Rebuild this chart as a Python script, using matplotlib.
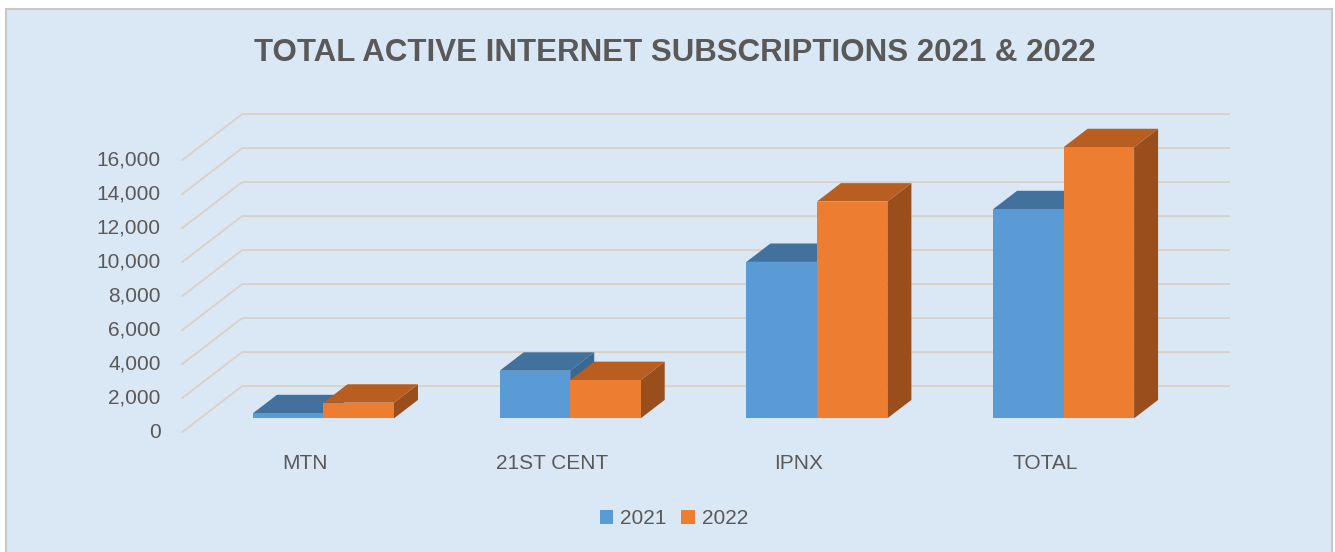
import matplotlib
matplotlib.use("Agg")
import matplotlib.pyplot as plt
from matplotlib.patches import Polygon, Rectangle

# datos
categories = ["MTN", "21ST CENT", "IPNX", "TOTAL"]
series_names = ["2021", "2022"]
values_2021 = [300, 2800, 9200, 12300]
values_2022 = [920, 2250, 12750, 15950]
y_ticks = [0, 2000, 4000, 6000, 8000, 10000, 12000, 14000, 16000]

# colores: frente, arriba, lado
colors_2021 = ("#5B9BD5", "#41719C", "#3A6890")
colors_2022 = ("#ED7D31", "#B85E20", "#9A4E1B")
bg_color = "#DAE8F6"
grid_color = "#D8D1C7"
text_color = "#595959"

fonts = ["Liberation Sans Narrow", "Liberation Sans", "DejaVu Sans"]

# geometria (pixeles de la figura)
W, H = 1335, 552
PX_CAT = 246.7      # px por categoria
PX_VAL = 0.017      # px por unidad
CAT0_PX = 323.5     # centro de la primera categoria (plano frontal de barras)
BASE_PY = 418.3     # base de las barras
DEPTH_DX = 60 / PX_CAT
DEPTH_DY = 46 / PX_VAL
BAR_D0 = 0.3
BAR_D1 = 0.7
BAR_W = 70.5 / PX_CAT


def proj(x, v, d):
    return x + (d - BAR_D0) * DEPTH_DX, v + (d - BAR_D0) * DEPTH_DY


fig = plt.figure(figsize=(W / 100, H / 100), dpi=100)
fig.patch.set_facecolor("white")
ax = fig.add_axes([0, 0, 1, 1])
ax.set_xlim(-CAT0_PX / PX_CAT, (W - CAT0_PX) / PX_CAT)
ax.set_ylim((BASE_PY - H) / PX_VAL, BASE_PY / PX_VAL)
ax.axis("off")

# fondo con borde (coordenadas de pantalla, origen abajo)
ax.add_patch(Rectangle((6, -10), 1326, H - 9 + 10, transform=None, facecolor=bg_color,
                       edgecolor="#C8C8C8", lw=1.5, zorder=0))

# lineas de cuadricula (pared lateral y pared del fondo)
for v in y_ticks:
    x0, y0 = proj(-0.5, v, 0)
    x1, y1 = proj(-0.5, v, 1)
    x2, y2 = proj(len(categories) - 0.5, v, 1)
    ax.plot([x0, x1, x2], [y0, y1, y2], color=grid_color, lw=1.3, zorder=1,
            solid_joinstyle="miter")
    ax.annotate(f"{v:,}", (x0, y0), xytext=(-15.5, 0), textcoords="offset points",
                ha="right", va="center", fontsize=15, color=text_color, family=fonts)


def bar3d(xl, xr, v, cols):
    front = [(xl, 0), (xr, 0), (xr, v), (xl, v)]
    front = [proj(x, y, BAR_D0) for x, y in front]
    top = [proj(xl, v, BAR_D0), proj(xr, v, BAR_D0), proj(xr, v, BAR_D1), proj(xl, v, BAR_D1)]
    side = [proj(xr, 0, BAR_D0), proj(xr, 0, BAR_D1), proj(xr, v, BAR_D1), proj(xr, v, BAR_D0)]
    ax.add_patch(Polygon(side, closed=True, facecolor=cols[2], edgecolor="none", zorder=2))
    ax.add_patch(Polygon(top, closed=True, facecolor=cols[1], edgecolor="none", zorder=2))
    ax.add_patch(Polygon(front, closed=True, facecolor=cols[0], edgecolor="none", zorder=2))


for i, cat in enumerate(categories):
    bar3d(i - BAR_W, i, values_2021[i], colors_2021)
    bar3d(i, i + BAR_W, values_2022[i], colors_2022)
    lx, ly = proj(i, 0, 0)
    ax.annotate(cat, (lx, ly), xytext=(0, -22.5), textcoords="offset points",
                ha="center", va="center", fontsize=15, color=text_color, family=fonts)

# titulo
fig.text(675 / W, 1 - 53 / H, "TOTAL ACTIVE INTERNET SUBSCRIPTIONS 2021 & 2022",
         ha="center", va="center", fontsize=22.5, fontweight="bold",
         color=text_color, family=fonts)

# leyenda
handles = [Rectangle((0, 0), 1, 1, facecolor=colors_2021[0]),
           Rectangle((0, 0), 1, 1, facecolor=colors_2022[0])]
leg = fig.legend(handles, series_names, loc="center", bbox_to_anchor=(674 / W, 1 - 519 / H),
                 ncol=2, frameon=False, handlelength=0.65, handleheight=0.65,
                 handletextpad=0.35, columnspacing=0.7,
                 prop={"family": fonts, "size": 15})
for t in leg.get_texts():
    t.set_color(text_color)

fig.savefig("out.png", dpi=100, facecolor="white")
